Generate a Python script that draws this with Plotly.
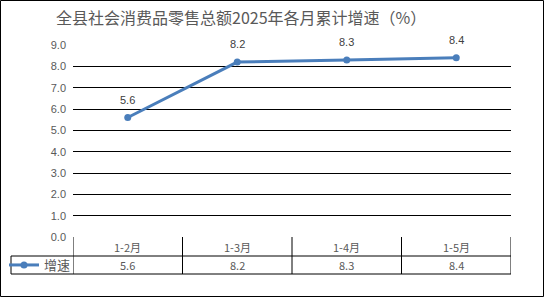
import plotly.graph_objects as go

# ---- data ----
categories = ["1-2月", "1-3月", "1-4月", "1-5月"]
growth = [5.6, 8.2, 8.3, 8.4]
series_name = "增速"
title_text = "全县社会消费品零售总额2025年各月累计增速（%）"
y_ticks = [0, 1, 2, 3, 4, 5, 6, 7, 8, 9]

# ---- layout constants ----
W, H = 545, 298
ML, MR, MT, MB = 73, 34, 45, 61
PW = W - ML - MR
PH = H - MT - MB
LINE_COLOR = "#4A7EBB"
TXT = "#595959"
FONT = "Noto Sans CJK SC, Liberation Sans, sans-serif"


def px(p):
    return (p - ML) / PW


def py(p):
    return (H - MB - p) / PH


fig = go.Figure()
fig.add_trace(go.Scatter(
    x=categories, y=growth, name=series_name,
    mode="lines+markers",
    line=dict(color=LINE_COLOR, width=3),
    marker=dict(color=LINE_COLOR, size=7),
    cliponaxis=False,
))

shapes = []
# outer border
shapes.append(dict(type="rect", xref="paper", yref="paper",
                   x0=px(0.5), x1=px(543.5), y0=py(0.5), y1=py(296.5),
                   line=dict(color="black", width=1)))
# table horizontal lines
row_mid, row_bot = 256, 274
for yy in (row_mid, row_bot):
    shapes.append(dict(type="line", xref="paper", yref="paper",
                       x0=px(11), x1=1, y0=py(yy), y1=py(yy),
                       line=dict(color="black", width=1)))
# legend cell left line
shapes.append(dict(type="line", xref="paper", yref="paper",
                   x0=px(11), x1=px(11), y0=py(row_mid), y1=py(row_bot),
                   line=dict(color="black", width=1)))
# column separators (category boundaries)
for i in range(len(categories) + 1):
    shapes.append(dict(type="line", xref="x", yref="paper",
                       x0=i - 0.5, x1=i - 0.5, y0=0, y1=py(row_bot),
                       line=dict(color="black", width=1)))

annotations = []
annotations.append(dict(text=title_text, xref="paper", yref="paper",
                        x=px(54), y=py(17), xanchor="left", yanchor="middle",
                        showarrow=False,
                        font=dict(size=16, color=TXT, family=FONT)))
for i, (c, v) in enumerate(zip(categories, growth)):
    # data label above point
    annotations.append(dict(text=f"{v:.1f}", xref="x", yref="y", x=i, y=v,
                            yshift=18, showarrow=False, xanchor="center", yanchor="middle",
                            font=dict(size=11, color="#404040", family="Liberation Sans, sans-serif")))
    # table cells
    annotations.append(dict(text=c, xref="x", yref="paper", x=i, y=py(247),
                            showarrow=False, xanchor="center", yanchor="middle",
                            font=dict(size=11, color=TXT, family=FONT)))
    annotations.append(dict(text=f"{v:.1f}", xref="x", yref="paper", x=i, y=py(265),
                            showarrow=False, xanchor="center", yanchor="middle",
                            font=dict(size=11, color=TXT, family=FONT)))

fig.update_layout(
    width=W, height=H,
    margin=dict(l=ML, r=MR, t=MT, b=MB, autoexpand=False),
    paper_bgcolor="white", plot_bgcolor="white",
    shapes=shapes, annotations=annotations,
    showlegend=True,
    legend=dict(x=px(4), y=py(265), xanchor="left", yanchor="middle",
                bgcolor="rgba(0,0,0,0)", font=dict(size=13, color=TXT, family=FONT),
                itemwidth=30, tracegroupgap=0),
    xaxis=dict(type="category", range=[-0.5, len(categories) - 0.5], automargin=False,
               showticklabels=False, showgrid=False, zeroline=False, showline=False),
    yaxis=dict(range=[0, 9], tickvals=y_ticks, tickformat=".1f", automargin=False,
               showgrid=True, gridcolor="black", gridwidth=1,
               zeroline=False, showline=False, ticks="", ticklabelstandoff=6,
               tickfont=dict(size=11, color=TXT, family="Liberation Sans, sans-serif")),
)

fig.write_html("out.html")
